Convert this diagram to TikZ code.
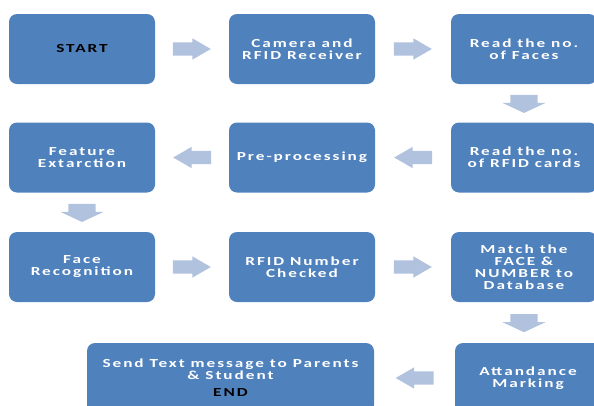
\documentclass[tikz,border=0pt]{standalone}
\usepackage{fontspec}
\setsansfont{Carlito}[FakeStretch=1.4,LetterSpace=16]
\usetikzlibrary{shapes.arrows,calc}
\definecolor{boxblue}{HTML}{4F81BD}
\definecolor{arrowblue}{HTML}{B0C2DE}

\begin{document}
\begin{tikzpicture}[x=1pt, y=-1pt,
  font=\sffamily\bfseries\fontsize{12.3}{12}\selectfont,
  box/.style={fill=boxblue, draw=none, rounded corners=8pt, minimum width=146pt,
              minimum height=70pt, align=center, text=white, inner sep=2pt},
  rarr/.style={single arrow, fill=arrowblue, draw=none, inner xsep=0pt,
               inner ysep=6.5pt, minimum height=38pt, xshift=-6pt,
               single arrow head extend=4pt, single arrow tip angle=60},
  larr/.style={rarr, shape border rotate=180, xshift=12pt},
  darr/.style={single arrow, fill=arrowblue, draw=none, inner xsep=13.5pt,
               inner ysep=0pt, shape border rotate=270, minimum height=18pt,
               yshift=2.5pt, single arrow head extend=8pt,
               single arrow tip angle=130},
]
\useasboundingbox (0,0) rectangle (594,405);
% row 1
\node[box] (start) at (82,49) {\textcolor{black}{START}};
\node[box] (cam) at (302,49) {Camera and\\ RFID Receiver};
\node[box] (faces) at (524,49) {Read the no.\\ of Faces};
% row 2
\node[box] (cards) at (524,157.5) {Read the no.\\ of RFID cards};
\node[box] (prep) at (302,157.5) {Pre-processing};
\node[box] (feat) at (82,157.5) {Feature\\ Extarction};
% row 3
\node[box] (face) at (82,267) {Face\\ Recognition};
\node[box] (rfid) at (302,267) {RFID Number\\ Checked};
\node[box] (match) at (524,267) {Match the\\ FACE \&\\ NUMBER to\\ Database};
% row 4
\node[box] (att) at (528,378) {Attandance\\ Marking};
\node[box, minimum width=287pt] (send) at (230.5,378)
  {Send Text message to Parents\\ \& Student\\[5pt] \textcolor{black}{END}};

% block arrows
\node[rarr] (a1) at ($(start.east)!0.5!(cam.west)$) {};
\node[rarr] (a2) at ($(cam.east)!0.5!(faces.west)$) {};
\node[darr] (a3) at ($(faces.south)!0.5!(cards.north)$) {};
\node[larr] (a4) at ($(cards.west)!0.5!(prep.east)$) {};
\node[larr] (a5) at ($(prep.west)!0.5!(feat.east)$) {};
\node[darr] (a6) at ($(feat.south)!0.5!(face.north)$) {};
\node[rarr] (a7) at ($(face.east)!0.5!(rfid.west)$) {};
\node[rarr] (a8) at ($(rfid.east)!0.5!(match.west)$) {};
\node[darr] (a9) at ($(match.south)!0.5!(match.south |- att.north)$) {};
\node[larr] (a10) at ($(att.west)!0.5!(send.east)$) {};
\end{tikzpicture}
\end{document}
